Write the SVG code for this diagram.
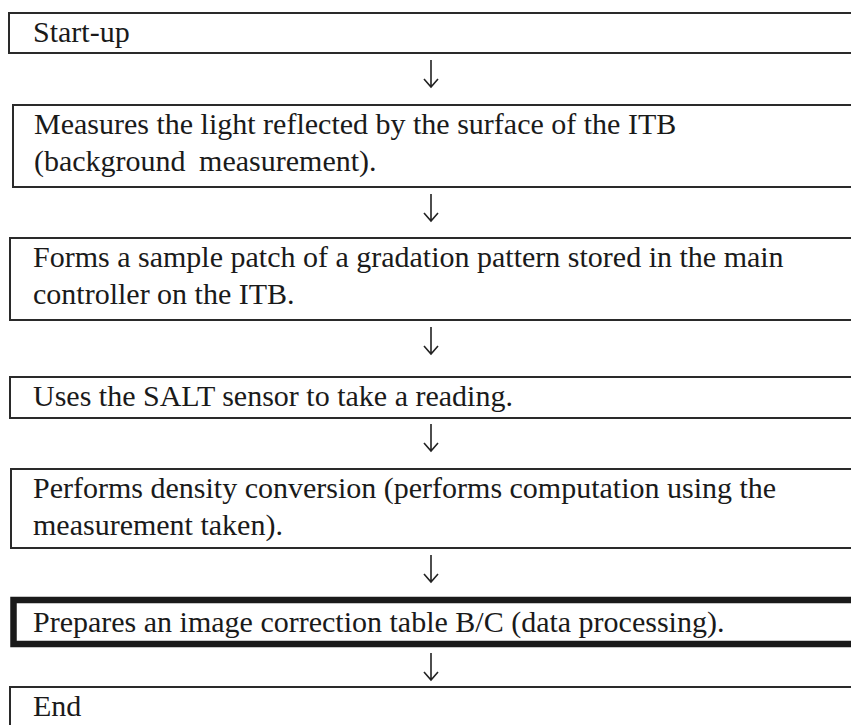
<svg xmlns="http://www.w3.org/2000/svg" width="851" height="725" viewBox="0 0 851 725">
<style>
.box{fill:#fff;stroke:#2a2a2a;stroke-width:2}
.thick{fill:#fff;stroke:#1a1a1a;stroke-width:6.5}
.t{font-family:"Liberation Serif","Times New Roman",serif;font-size:30px;fill:#1a1a1a}
.c{fill:none;stroke:#222;stroke-width:1.6}
</style>
<rect width="851" height="725" fill="#fff"/>
<g id="n1"><rect class="box" x="9" y="13" width="860" height="40"/><text class="t" x="33" y="42">Start-up</text></g>
<g id="n2"><rect class="box" x="13" y="105" width="860" height="82"/><text class="t" x="34" y="134">Measures the light reflected by the surface of the ITB</text><text class="t" x="34" y="171" word-spacing="6">(background measurement).</text></g>
<g id="n3"><rect class="box" x="10" y="238" width="860" height="82"/><text class="t" x="33" y="267">Forms a sample patch of a gradation pattern stored in the main</text><text class="t" x="33" y="304">controller on the ITB.</text></g>
<g id="n4"><rect class="box" x="10" y="377" width="860" height="41"/><text class="t" x="33" y="406">Uses the SALT sensor to take a reading.</text></g>
<g id="n5"><rect class="box" x="11" y="469" width="860" height="79"/><text class="t" x="33" y="498">Performs density conversion (performs computation using the</text><text class="t" x="33" y="535">measurement taken).</text></g>
<g id="n6"><rect class="thick" x="13.5" y="600" width="860" height="44"/><text class="t" x="33" y="632">Prepares an image correction table B/C (data processing).</text></g>
<g id="n7"><rect class="box" x="10" y="687" width="860" height="60"/><text class="t" x="33" y="716">End</text></g>
<g id="connectors">
<path class="c" d="M431 60V87M424 79L431 87L438 79"/>
<path class="c" d="M431 194V221M424 213L431 221L438 213"/>
<path class="c" d="M431 327V354M424 346L431 354L438 346"/>
<path class="c" d="M431 424V451M424 443L431 451L438 443"/>
<path class="c" d="M431 555V582M424 574L431 582L438 574"/>
<path class="c" d="M431 653V680M424 672L431 680L438 672"/>
</g>
</svg>
